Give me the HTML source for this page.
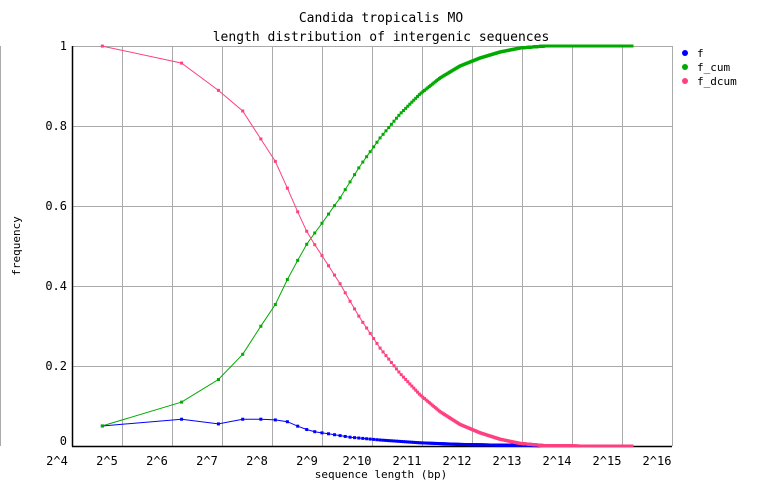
<!DOCTYPE html>
<html><head><meta charset="utf-8"><style>
body{margin:0;background:#fff;}
svg{display:block;font-family:"DejaVu Sans Mono","Liberation Mono",monospace;}
</style></head><body>
<svg id="s" width="762" height="498" xmlns="http://www.w3.org/2000/svg">
<rect width="762" height="498" fill="#fff"/>
<line x1="0.5" y1="46" x2="0.5" y2="446" stroke="#aaa"/>
<g id="grid" stroke="#aaa" stroke-width="1"></g>
<line x1="72.5" y1="46" x2="72.5" y2="446.5" stroke="#000" stroke-width="1.5"/>
<line x1="72" y1="446.5" x2="672" y2="446.5" stroke="#000" stroke-width="1.5"/>
<g font-size="13" text-anchor="middle" fill="#000">
<text x="381" y="22">Candida tropicalis MO</text>
<text x="381" y="41">length distribution of intergenic sequences</text>
</g>
<g id="lab" font-size="12" fill="#000"></g>
<text x="381" y="478" font-size="11" text-anchor="middle">sequence length (bp)</text>
<text transform="translate(20,246) rotate(-90)" font-size="11" text-anchor="middle">frequency</text>
<g id="data"></g>
<g font-size="11">
<circle cx="685" cy="53" r="3" fill="#0000ff"/><text x="697" y="57">f</text>
<circle cx="685" cy="67" r="3" fill="#00aa00"/><text x="697" y="71">f_cum</text>
<circle cx="685" cy="81" r="3" fill="#ff4080"/><text x="697" y="85">f_dcum</text>
</g>
</svg>
<script>
var NS="http://www.w3.org/2000/svg";
function el(p,t,a,txt){var e=document.createElementNS(NS,t);for(var k in a)e.setAttribute(k,a[k]);if(txt!==undefined)e.textContent=txt;document.getElementById(p).appendChild(e);return e;}
for(var i=1;i<=12;i++){var x=72.5+50*i;el("grid","line",{x1:x,y1:46,x2:x,y2:446});}
[0.2,0.4,0.6,0.8,1].forEach(function(v){var y=446.5-400*v;el("grid","line",{x1:72,y1:y,x2:672,y2:y});});
for(var n=4;n<=16;n++){el("lab","text",{x:57+50*(n-4),y:465,"text-anchor":"middle"},"2^"+n);}
[["0",446],["0.2",366],["0.4",286],["0.6",206],["0.8",126],["1",46]].forEach(function(a){el("lab","text",{x:67,y:a[1]+(a[0]=="0"?-1:4),"text-anchor":"end"},a[0]);});
function interp(A,x){if(x<=A[0][0])return A[0][1];for(var i=1;i<A.length;i++){if(x<=A[i][0]){var t=(x-A[i-1][0])/(A[i][0]-A[i-1][0]);return A[i-1][1]+t*(A[i][1]-A[i-1][1]);}}return A[A.length-1][1];}
var cum=[[102,0.05],[182,0.11],[218,0.165],[243,0.23],[261,0.30],[277,0.36],[289,0.425],[299,0.47],[308,0.51],[320,0.55],[340,0.62],[360,0.70],[380,0.77],[400,0.83],[420,0.88],[440,0.92],[460,0.95],[480,0.97],[500,0.985],[520,0.995],[545,1],[640,1]];
var f=[[102,0.05],[182,0.067],[218,0.055],[243,0.067],[261,0.067],[277,0.065],[289,0.06],[299,0.048],[308,0.04],[316,0.035],[330,0.03],[350,0.022],[380,0.015],[420,0.008],[460,0.004],[500,0.002],[540,0.001],[580,0]];
var P={f:[],c:[],d:[]};
for(var k=0;;k++){var L=30+60*k;var x=57+50*Math.log2(L/16);if(x>632)break;
var fv=interp(f,x),cv=interp(cum,x),dv=Math.max(0,1-cv+fv);dv=Math.min(1,dv);
if(x<=540)P.f.push([x,446-400*fv]);P.c.push([x,446-400*cv]);P.d.push([x,446-400*dv]);}
[["f","#0000ff"],["c","#00aa00"],["d","#ff4080"]].forEach(function(s){var pts=P[s[0]];
el("data","polyline",{points:pts.map(function(p){return p[0].toFixed(1)+","+p[1].toFixed(1)}).join(" "),fill:"none",stroke:s[1],"stroke-width":1});
pts.forEach(function(p){el("data","rect",{x:p[0]-1.5,y:p[1]-1.5,width:3,height:3,fill:s[1]});});});
</script>
</body></html>
